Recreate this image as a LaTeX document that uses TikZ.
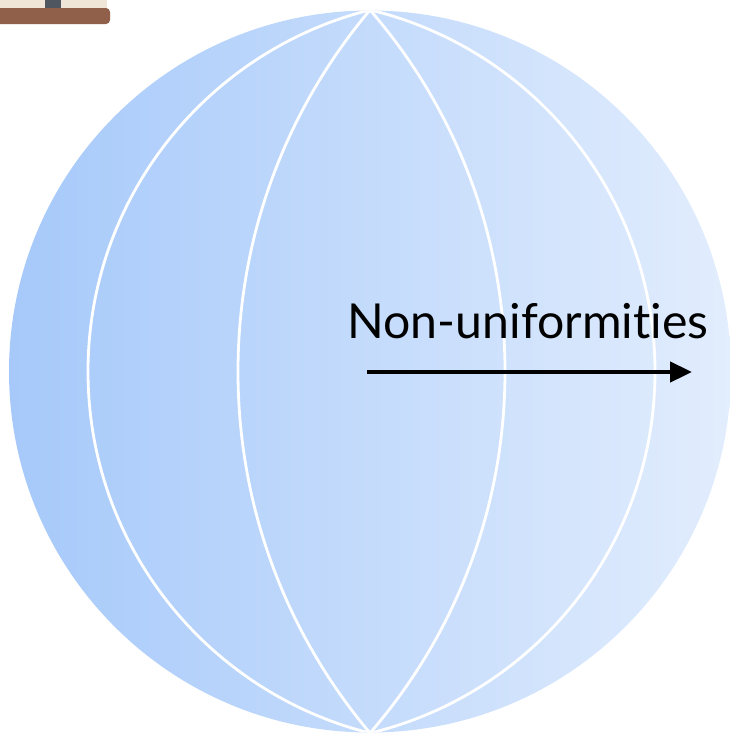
\documentclass[tikz,border=0pt]{standalone}
\usepackage{fontspec}
\setmainfont{Lato}[Ligatures={NoCommon}]
\usetikzlibrary{arrows.meta}
\definecolor{globeleft}{RGB}{166,201,250}
\definecolor{globeright}{RGB}{226,237,253}
\definecolor{shelfbeige}{RGB}{240,230,216}
\definecolor{shelfpost}{RGB}{80,86,96}
\definecolor{shelfbrown}{RGB}{145,96,74}

\begin{document}
\begin{tikzpicture}[
    x=1pt, y=-1pt,
    meridian/.style={white, line width=2.8pt},
    flow/.style={-{Triangle[length=22pt, width=20pt]}, line width=4.6pt, black},
    caption/.style={font=\fontsize{48.2}{58}\selectfont, inner sep=0pt, anchor=base}
]
\useasboundingbox (0,0) rectangle (730,734);
%
\fill[shelfbeige] (0,0) rectangle (107,9);
\fill[shelfpost] (45,0) rectangle (61,9);
\fill[shelfbrown, rounded corners=4pt] (-10,8) rectangle (110,24);
%
\shade[left color=globeleft, right color=globeright] (370,371.5) circle[radius=361];
\begin{scope}
\clip (370,371.5) circle[radius=361];
\draw[meridian] (460.7,371.5) circle[radius=372.7];
\draw[meridian] (799,371.5) circle[radius=561];
\draw[meridian] (-46.5,371.5) circle[radius=551.5];
\draw[meridian] (283.2,371.5) circle[radius=371.8];
\end{scope}
%
\node[caption] (label) at (528,338) {Non-uniformities};
\coordinate (tail) at (367,372);
\coordinate (head) at (692,372);
\draw[flow] (tail) -- (head);
\end{tikzpicture}
\end{document}
